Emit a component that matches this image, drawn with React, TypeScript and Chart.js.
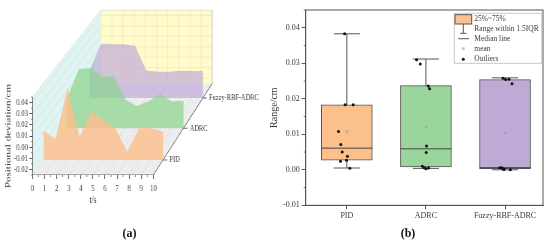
import React, { useEffect, useRef } from "react";
import { Chart, registerables } from "chart.js";

Chart.register(...registerables);

const SERIF = "'Liberation Serif', serif";
const TEXT = "#3a3a3a";
const AXIS = "#555";

// ---- panel (a) data
const timeSteps = [0, 1, 2, 3, 4, 5, 6, 7, 8, 9, 10];
const pidDeviation = [0.0013, -0.006, 0.0408, -0.0039, 0.0188, 0.0112, 0.0037, -0.0174, 0.0037, 0.0037, 0.0007];
const adrcDeviation = [0.0037, 0.03, 0.0309, 0.0229, 0.0229, 0.0016, -0.0046, 0, 0.0068, -0.0003, 0.0006];
const fuzzyDeviation = [0.0018, 0.0263, 0.026, 0.026, 0.0245, 0.0011, -0.0001, -0.0001, 0.0008, 0.0005, 0.0005];
const seriesNames = ["PID", "ADRC", "Fuzzy-RBF-ADRC"];
const seriesDepths = [0.164, 0.51, 0.84];
const deviationGrid = [-0.02, -0.01, 0, 0.01, 0.02, 0.03, 0.04];

// ---- panel (b) data
const q1 = [0.0027, 0.0008, 0.0003];
const q3 = [0.0183, 0.0237, 0.0254];
const medians = [0.0061, 0.0059, 0.0006];
const whiskerLow = [0.0005, 0.0004, 0];
const whiskerHigh = [0.0383, 0.0312, 0.0259];
const means = [0.0108, 0.0122, 0.0104];
const pidPoints = [[0.971, 0.0383], [0.979, 0.0183], [1.08, 0.0183], [0.895, 0.0108], [0.924, 0.0071], [0.941, 0.005], [1.008, 0.0038], [0.996, 0.0027], [0.92, 0.0024], [1.038, 0.0004]];
const adrcPoints = [[1.882, 0.031], [1.928, 0.0298], [2.03, 0.0236], [2.046, 0.0228], [2.008, 0.0067], [2.004, 0.0049], [1.954, 0.001], [1.979, 0.0006], [2.0, 0.0003], [2.034, 0.0005]];
const fuzzyPoints = [[2.975, 0.0258], [3.008, 0.0254], [3.05, 0.0255], [3.088, 0.0242], [2.933, 0.0006], [2.966, 0.0004], [2.99, 0.0002], [3.067, 0], [2.958, 0.0006], [2.983, 0.0001]];
const legendLabels = ["25%~75%", "Range within 1.5IQR", "Median line", "mean", "Outliers"];

const V_MIN = -0.025;
const V_MAX = 0.045;
const X_SQUEEZE = 0.75;

// Oblique projection of (time, deviation, depth) onto the front plane of panel (a).
const project = (t: number, v: number, d: number) => ({
  x: 5.646 * d + t * (1 - 0.0762 * d),
  y: V_MIN + 0.0823 * d + (v - V_MIN) * (1 - 0.0603 * d),
});
const GAP = { x: null as any, y: null as any };

const area3d = (values: number[], d: number) => [
  project(timeSteps[0], V_MIN, d),
  ...values.map((v, i) => project(timeSteps[i], v, d)),
  project(timeSteps[timeSteps.length - 1], V_MIN, d),
  project(timeSteps[0], V_MIN, d),
];

const shape = (data: any[], color: string, order: number) => ({
  type: "scatter" as const,
  data,
  showLine: true,
  fill: "shape",
  backgroundColor: color,
  borderWidth: 0,
  pointRadius: 0,
  tension: 0,
  order,
});
const lines = (data: any[], color: string, order: number, width = 0.7) => ({
  type: "scatter" as const,
  data,
  showLine: true,
  fill: false,
  borderColor: color,
  borderWidth: width,
  pointRadius: 0,
  spanGaps: false,
  order,
});

const minorTicks = (axisId: string, isMajor: (v: number) => boolean, len: number) => ({
  id: "minor" + axisId,
  afterDraw(chart: any) {
    const s = chart.scales[axisId];
    const ctx = chart.ctx;
    ctx.save();
    ctx.strokeStyle = AXIS;
    ctx.lineWidth = 0.8;
    s.ticks.forEach((tk: any) => {
      if (isMajor(tk.value)) return;
      const p = s.getPixelForValue(tk.value);
      ctx.beginPath();
      if (s.axis === "y") {
        ctx.moveTo(s.right, p);
        ctx.lineTo(s.right - len, p);
      } else {
        ctx.moveTo(p, s.top);
        ctx.lineTo(p, s.top + len);
      }
      ctx.stroke();
    });
    ctx.restore();
  },
});

const isHundredth = (v: number) => Math.abs(v * 100 - Math.round(v * 100)) < 1e-6;
const isWhole = (v: number) => Math.abs(v - Math.round(v)) < 1e-6;

function buildLeft(canvas: HTMLCanvasElement) {
  const wallBack = [project(0, V_MIN, 1), project(10, V_MIN, 1), project(10, V_MAX, 1), project(0, V_MAX, 1), project(0, V_MIN, 1)];
  const wallLeft = [project(0, V_MIN, 0), project(0, V_MIN, 1), project(0, V_MAX, 1), project(0, V_MAX, 0), project(0, V_MIN, 0)];
  const floor = [project(0, V_MIN, 0), project(10, V_MIN, 0), project(10, V_MIN, 1), project(0, V_MIN, 1), project(0, V_MIN, 0)];
  const backGrid: any[] = [];
  const leftGrid: any[] = [];
  const floorGrid: any[] = [];
  timeSteps.forEach((t) => {
    backGrid.push(project(t, V_MIN, 1), project(t, V_MAX, 1), GAP);
    floorGrid.push(project(t, V_MIN, 0), project(t, V_MIN, 1), GAP);
  });
  deviationGrid.forEach((v) => {
    backGrid.push(project(0, v, 1), project(10, v, 1), GAP);
    leftGrid.push(project(0, v, 0), project(0, v, 1), GAP);
  });
  const frontAxis = [project(0, V_MAX, 0), project(0, V_MIN, 0), project(10, V_MIN, 0), project(10, V_MIN, 1)];
  const backEdge = [project(0, V_MAX, 0), project(0, V_MAX, 1), project(10, V_MAX, 1), project(10, V_MIN, 1)];
  const seriesTicks: any[] = [];
  seriesDepths.forEach((d) => {
    seriesTicks.push(project(10, V_MIN, d), project(10.35, V_MIN, d), GAP);
  });

  return new Chart(canvas, {
    type: "scatter",
    data: {
      datasets: [
        shape(wallBack, "#FFFBCB", 20),
        shape(wallLeft, "#E0F5F3", 20),
        shape(floor, "#EEEDEE", 20),
        lines(backGrid, "#E9E5BC", 19),
        lines(leftGrid, "#C6E2E0", 19),
        lines(floorGrid, "#D8D8D8", 19),
        lines(backEdge, "#D5DCD0", 18),
        shape(area3d(fuzzyDeviation, seriesDepths[2]), "rgba(190,168,216,0.68)", 5),
        shape(area3d(adrcDeviation, seriesDepths[1]), "rgba(140,212,142,0.72)", 4),
        shape(area3d(pidDeviation, seriesDepths[0]), "rgba(252,190,138,0.8)", 3),
        lines(frontAxis, AXIS, 2, 0.9),
        lines(seriesTicks, AXIS, 2, 0.9),
      ] as any,
    },
    options: {
      animation: false,
      responsive: false,
      devicePixelRatio: 1,
      layout: { padding: { top: 8, right: 95, left: 0, bottom: 0 } },
      plugins: { legend: { display: false }, tooltip: { enabled: false } },
      scales: {
        x: {
          type: "linear",
          min: 0,
          max: 15,
          border: { display: false },
          grid: {
            drawOnChartArea: false,
            tickLength: 4,
            tickColor: (c: any) => (c.tick && isWhole(c.tick.value) ? AXIS : "rgba(0,0,0,0)"),
          },
          afterBuildTicks: (s: any) => {
            s.ticks = s.ticks.length ? Array.from({ length: 21 }, (_, i) => ({ value: i * 0.5 })) : s.ticks;
          },
          afterFit: (s: any) => {
            s.height = 69;
          },
          ticks: {
            stepSize: 0.5,
            autoSkip: false,
            maxRotation: 0,
            padding: 4,
            color: TEXT,
            font: { family: SERIF, size: 9 },
            callback: (v: any) => (isWhole(Number(v)) ? String(Math.round(Number(v))) : ""),
          },
        },
        y: {
          type: "linear",
          min: V_MIN,
          max: 0.125,
          border: { display: false },
          grid: {
            drawOnChartArea: false,
            tickLength: 4,
            tickColor: (c: any) => (c.tick && isHundredth(c.tick.value) ? AXIS : "rgba(0,0,0,0)"),
          },
          afterBuildTicks: (s: any) => {
            s.ticks = Array.from({ length: 15 }, (_, i) => ({ value: Number((V_MIN + i * 0.005).toFixed(3)) }));
          },
          afterFit: (s: any) => {
            s.width = 43.3;
          },
          ticks: {
            autoSkip: false,
            padding: 2,
            color: TEXT,
            font: { family: SERIF, size: 9 },
            callback: (v: any) => (isHundredth(Number(v)) ? Number(v).toFixed(2) : ""),
          },
        },
      },
    },
    plugins: [
      minorTicks("x", isWhole, 2),
      minorTicks("y", isHundredth, 2),
      {
        id: "labels3d",
        afterDraw(chart: any) {
          const { ctx, scales } = chart;
          ctx.save();
          ctx.fillStyle = TEXT;
          ctx.textBaseline = "middle";
          ctx.font = `8.5px ${SERIF}`;
          ctx.textAlign = "left";
          seriesNames.forEach((name, i) => {
            const p = project(10.55, V_MIN, seriesDepths[i]);
            ctx.fillText(name, scales.x.getPixelForValue(p.x), scales.y.getPixelForValue(p.y));
          });
          ctx.textAlign = "center";
          ctx.font = `10px ${SERIF}`;
          ctx.fillText("t/s", scales.x.getPixelForValue(5), 200);
          ctx.translate(11, scales.y.getPixelForValue(0.01));
          ctx.rotate(-Math.PI / 2);
          ctx.font = `11px ${SERIF}`;
          ctx.fillText("Positional deviation/cm", 0, 0);
          ctx.restore();
        },
      },
    ],
  } as any);
}

function buildRight(canvas: HTMLCanvasElement) {
  const xs = [1, 2, 3];
  const boxFill = ["#FCC08C", "#9AD69B", "#BFAAD6"];
  const whisk: any[] = [];
  const med: any[] = [];
  xs.forEach((x, i) => {
    whisk.push({ x, y: whiskerLow[i] }, { x, y: whiskerHigh[i] }, GAP);
    whisk.push({ x: x - 0.165, y: whiskerLow[i] }, { x: x + 0.165, y: whiskerLow[i] }, GAP);
    whisk.push({ x: x - 0.165, y: whiskerHigh[i] }, { x: x + 0.165, y: whiskerHigh[i] }, GAP);
    med.push({ x: x - 0.322, y: medians[i] }, { x: x + 0.322, y: medians[i] }, GAP);
  });
  const outliers = [...pidPoints, ...adrcPoints, ...fuzzyPoints].map(([x, y]) => ({ x, y }));

  return new Chart(canvas, {
    type: "bar",
    data: {
      datasets: [
        lines(whisk, "#555", 6, 1),
        {
          type: "bar",
          data: xs.map((x, i) => ({ x, y: [q1[i], q3[i]] })),
          backgroundColor: boxFill,
          borderColor: "#555",
          borderWidth: 1,
          borderSkipped: false,
          barThickness: 51,
          order: 5,
        },
        lines(med, "#444", 4, 1),
        {
          type: "scatter",
          data: xs.map((x, i) => ({ x, y: means[i] })),
          pointStyle: "rect",
          pointRadius: 1.8,
          backgroundColor: "rgba(150,150,150,0.55)",
          borderWidth: 0,
          order: 3,
        },
        {
          type: "scatter",
          data: outliers,
          pointRadius: 1.5,
          backgroundColor: "#111",
          borderWidth: 0,
          order: 2,
        },
      ] as any,
    },
    options: {
      animation: false,
      responsive: false,
      devicePixelRatio: 1,
      layout: { padding: { left: 268, right: 7, top: 10, bottom: 0 } },
      plugins: { legend: { display: false }, tooltip: { enabled: false } },
      scales: {
        x: {
          type: "linear",
          min: 0.48,
          max: 3.48,
          offset: false,
          border: { color: AXIS },
          grid: { offset: false, drawOnChartArea: false, tickLength: 4, tickColor: AXIS },
          afterBuildTicks: (s: any) => {
            s.ticks = xs.map((value) => ({ value }));
          },
          afterFit: (s: any) => {
            s.height = 38.7;
          },
          ticks: {
            autoSkip: false,
            maxRotation: 0,
            padding: 2,
            color: TEXT,
            font: { family: SERIF, size: 8 },
            callback: (v: any) => seriesNames[Math.round(Number(v)) - 1],
          },
        },
        y: {
          type: "linear",
          min: -0.01,
          max: 0.045,
          border: { color: AXIS },
          grid: {
            drawOnChartArea: false,
            tickLength: 4,
            tickColor: (c: any) => (c.tick && isHundredth(c.tick.value) ? AXIS : "rgba(0,0,0,0)"),
          },
          afterFit: (s: any) => {
            s.width = 37.7;
          },
          title: {
            display: true,
            text: "Range/cm",
            color: TEXT,
            font: { family: SERIF, size: 10 },
            padding: { top: 0, bottom: 0 },
          },
          ticks: {
            stepSize: 0.005,
            autoSkip: false,
            padding: 2,
            color: TEXT,
            font: { family: SERIF, size: 8 },
            callback: (v: any) => (isHundredth(Number(v)) ? Number(v).toFixed(2) : ""),
          },
        },
      },
    },
    plugins: [
      minorTicks("y", isHundredth, 2),
      {
        id: "frameLegend",
        afterDraw(chart: any) {
          const { ctx, chartArea: a } = chart;
          ctx.save();
          ctx.strokeStyle = AXIS;
          ctx.lineWidth = 1;
          ctx.strokeRect(a.left, a.top, a.right - a.left, a.bottom - a.top);
          // legend
          ctx.fillStyle = "rgba(255,255,255,0.92)";
          ctx.strokeStyle = "#c8c8c8";
          ctx.fillRect(454.3, 13.3, 87.4, 50);
          ctx.strokeRect(454.3, 13.3, 87.4, 50);
          const rows = [19.3, 29, 38.7, 48.7, 59.3];
          ctx.fillStyle = boxFill[0];
          ctx.strokeStyle = "#555";
          ctx.fillRect(455, 14.7, 16.7, 9.3);
          ctx.strokeRect(455, 14.7, 16.7, 9.3);
          ctx.beginPath();
          ctx.moveTo(463.3, 24);
          ctx.lineTo(463.3, 33.3);
          ctx.moveTo(460.3, 33.3);
          ctx.lineTo(466.3, 33.3);
          ctx.moveTo(458.3, rows[2]);
          ctx.lineTo(469, rows[2]);
          ctx.stroke();
          ctx.fillStyle = "rgba(150,150,150,0.5)";
          ctx.fillRect(461.8, rows[3] - 1.5, 3, 3);
          ctx.fillStyle = "#111";
          ctx.beginPath();
          ctx.arc(463.3, rows[4], 1.5, 0, Math.PI * 2);
          ctx.fill();
          ctx.fillStyle = TEXT;
          ctx.textBaseline = "middle";
          ctx.textAlign = "left";
          ctx.font = `7.5px ${SERIF}`;
          legendLabels.forEach((t, i) => ctx.fillText(t, 474.3, rows[i]));
          // sub-figure captions
          ctx.textAlign = "center";
          ctx.fillStyle = "#111";
          ctx.font = `bold 12px ${SERIF}`;
          ctx.fillText("(a)", 129.5, 234);
          ctx.fillText("(b)", 408, 234);
          ctx.restore();
        },
      },
    ],
  } as any);
}

export default function App() {
  const leftRef = useRef<HTMLCanvasElement>(null);
  const rightRef = useRef<HTMLCanvasElement>(null);
  useEffect(() => {
    const l = buildLeft(leftRef.current!);
    const r = buildRight(rightRef.current!);
    return () => {
      l.destroy();
      r.destroy();
    };
  }, []);
  return (
    <div style={{ position: "fixed", left: 0, top: 0, width: 550, height: 244, background: "#fff", overflow: "hidden" }}>
      <canvas
        ref={leftRef}
        width={380}
        height={244}
        style={{ position: "absolute", left: 0, top: 0, transformOrigin: "0 0", transform: `scaleX(${X_SQUEEZE})`, filter: "blur(0.5px)" }}
      />
      <canvas
        ref={rightRef}
        width={550}
        height={244}
        style={{ position: "absolute", left: 0, top: 0, filter: "blur(0.4px)" }}
      />
    </div>
  );
}
